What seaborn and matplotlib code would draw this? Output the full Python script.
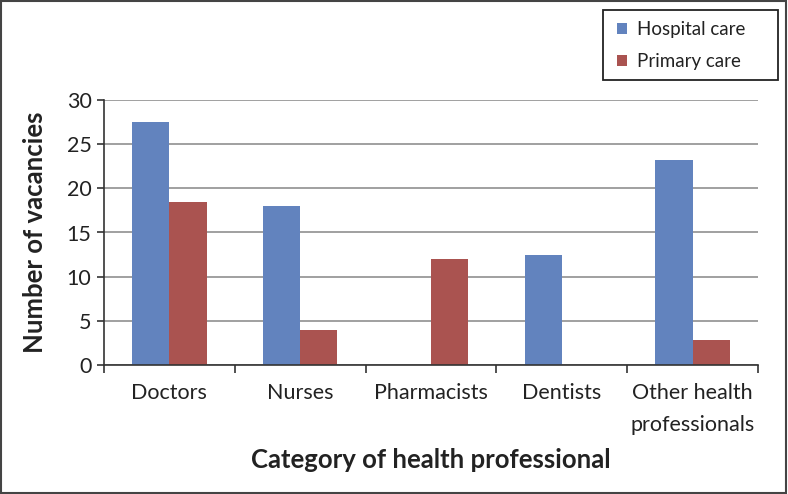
import pandas as pd
import seaborn as sns
import matplotlib.pyplot as plt
from matplotlib.patches import Rectangle

categories = ['Doctors', 'Nurses', 'Pharmacists', 'Dentists', 'Other health\nprofessionals']
hospital_care = [27.5, 18, 0, 12.5, 23.2]
primary_care = [18.5, 4, 12, 0, 2.8]
series_names = ['Hospital care', 'Primary care']
y_ticks = [0, 5, 10, 15, 20, 25, 30]

df = pd.DataFrame({
    'category': categories * 2,
    'vacancies': hospital_care + primary_care,
    'series': [series_names[0]] * len(categories) + [series_names[1]] * len(categories),
})

sns.set_style('white')
plt.rcParams['font.family'] = ['Lato', 'DejaVu Sans']

fig = plt.figure(figsize=(7.88, 4.94), dpi=100)
ax = fig.add_axes([104 / 788, 1 - 365 / 494, (758 - 104) / 788, (365 - 100) / 494])

sns.barplot(data=df, x='category', y='vacancies', hue='series', order=categories,
            hue_order=series_names, palette=['#6283BE', '#AA5350'], width=0.57,
            saturation=1, linewidth=0, ax=ax)

ax.set_ylim(0, 30)
ax.set_xlim(-0.5, len(categories) - 0.5)
ax.set_yticks(y_ticks)
ax.set_yticklabels([str(t) for t in y_ticks], fontsize=15.5)
ax.yaxis.grid(True, color='#A0A0A0', linewidth=1.4)
ax.set_axisbelow(True)

ax.set_xticks(range(len(categories)))
ax.set_xticklabels(categories, fontsize=15.5, color='#222222', linespacing=1.75, va='top')
ax.set_xticks([i - 0.5 for i in range(len(categories) + 1)], minor=True)
ax.tick_params(axis='x', which='major', length=0, pad=13)
ax.tick_params(axis='x', which='minor', length=6, width=1.2, color='#333333', direction='out', bottom=True)
ax.tick_params(axis='y', length=5, width=1.2, color='#333333', direction='out', left=True,
               labelcolor='#222222', pad=4)

for side in ['top', 'right']:
    ax.spines[side].set_visible(False)
for side in ['left', 'bottom']:
    ax.spines[side].set_color('#333333')
    ax.spines[side].set_linewidth(1.2)

ax.set_xlabel('Category of health professional', fontsize=18.5, fontweight='bold', color='#222222', labelpad=9)
ax.set_ylabel('Number of vacancies', fontsize=18.5, fontweight='bold', color='#222222', labelpad=14)

# legend without its own frame; the box is drawn separately to match the wide Excel frame
leg = ax.legend(loc='upper left', bbox_to_anchor=(603 / 788, 1 - 7 / 494),
                bbox_transform=fig.transFigure, fontsize=13.5, frameon=False,
                handlelength=0.55, handleheight=0.55, handletextpad=0.5, labelspacing=0.8,
                borderpad=0.75, borderaxespad=0)
for txt in leg.get_texts():
    txt.set_color('#222222')

fig.patches.append(Rectangle((603 / 788, 1 - 80 / 494), 175 / 788, 70 / 494, transform=fig.transFigure,
                             fill=False, edgecolor='#222222', linewidth=1.3))
fig.patches.append(Rectangle((0.001, 0.002), 0.997, 0.996, transform=fig.transFigure,
                             fill=False, edgecolor='#444444', linewidth=1.5))

fig.savefig('out.png', dpi=100)
